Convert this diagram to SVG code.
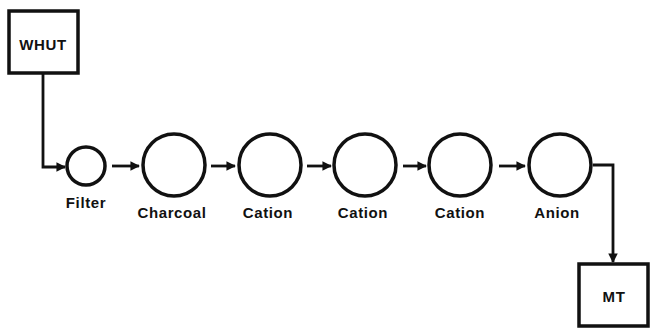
<svg xmlns="http://www.w3.org/2000/svg" width="650" height="329" viewBox="0 0 650 329">
<style>
.box{fill:#fff;stroke:#111;stroke-width:3.5}
.c{fill:#fff;stroke:#111;stroke-width:3.5}
.ln{fill:none;stroke:#111;stroke-width:2.8}
text{font-family:"Liberation Sans",Arial,sans-serif;font-weight:bold;font-size:15px;fill:#111;text-anchor:middle;letter-spacing:0.6px}
</style>
<defs>
<marker id="ah" viewBox="0 0 10 10" refX="9" refY="5" markerWidth="3.4" markerHeight="3.4" orient="auto" markerUnits="strokeWidth">
<path d="M0,0 L10,5 L0,10 Z" fill="#111"/>
</marker>
</defs>
<rect width="650" height="329" fill="#fff"/>
<g id="connectors">
<path class="ln" d="M43,73 V167 H65" marker-end="url(#ah)"/>
<path class="ln" d="M112,166 H139" marker-end="url(#ah)"/>
<path class="ln" d="M211,166 H235" marker-end="url(#ah)"/>
<path class="ln" d="M307,166 H331" marker-end="url(#ah)"/>
<path class="ln" d="M403,166 H426" marker-end="url(#ah)"/>
<path class="ln" d="M499,166 H525" marker-end="url(#ah)"/>
<path class="ln" d="M593,165 H613 V262" marker-end="url(#ah)"/>
</g>
<g id="whut"><rect class="box" x="9" y="11" width="69" height="62"/><text x="43" y="50">WHUT</text></g>
<g id="filter"><circle class="c" cx="86" cy="166" r="19"/><text x="86" y="208">Filter</text></g>
<g id="charcoal"><circle class="c" cx="174" cy="165" r="31"/><text x="172" y="218">Charcoal</text></g>
<g id="cation1"><circle class="c" cx="270" cy="165" r="31"/><text x="268" y="218">Cation</text></g>
<g id="cation2"><circle class="c" cx="365" cy="165" r="31"/><text x="363" y="218">Cation</text></g>
<g id="cation3"><circle class="c" cx="460" cy="165" r="31"/><text x="460" y="218">Cation</text></g>
<g id="anion"><circle class="c" cx="560" cy="165" r="31"/><text x="557" y="218">Anion</text></g>
<g id="mt"><rect class="box" x="579" y="264" width="69" height="62"/><text x="614" y="302">MT</text></g>
</svg>
